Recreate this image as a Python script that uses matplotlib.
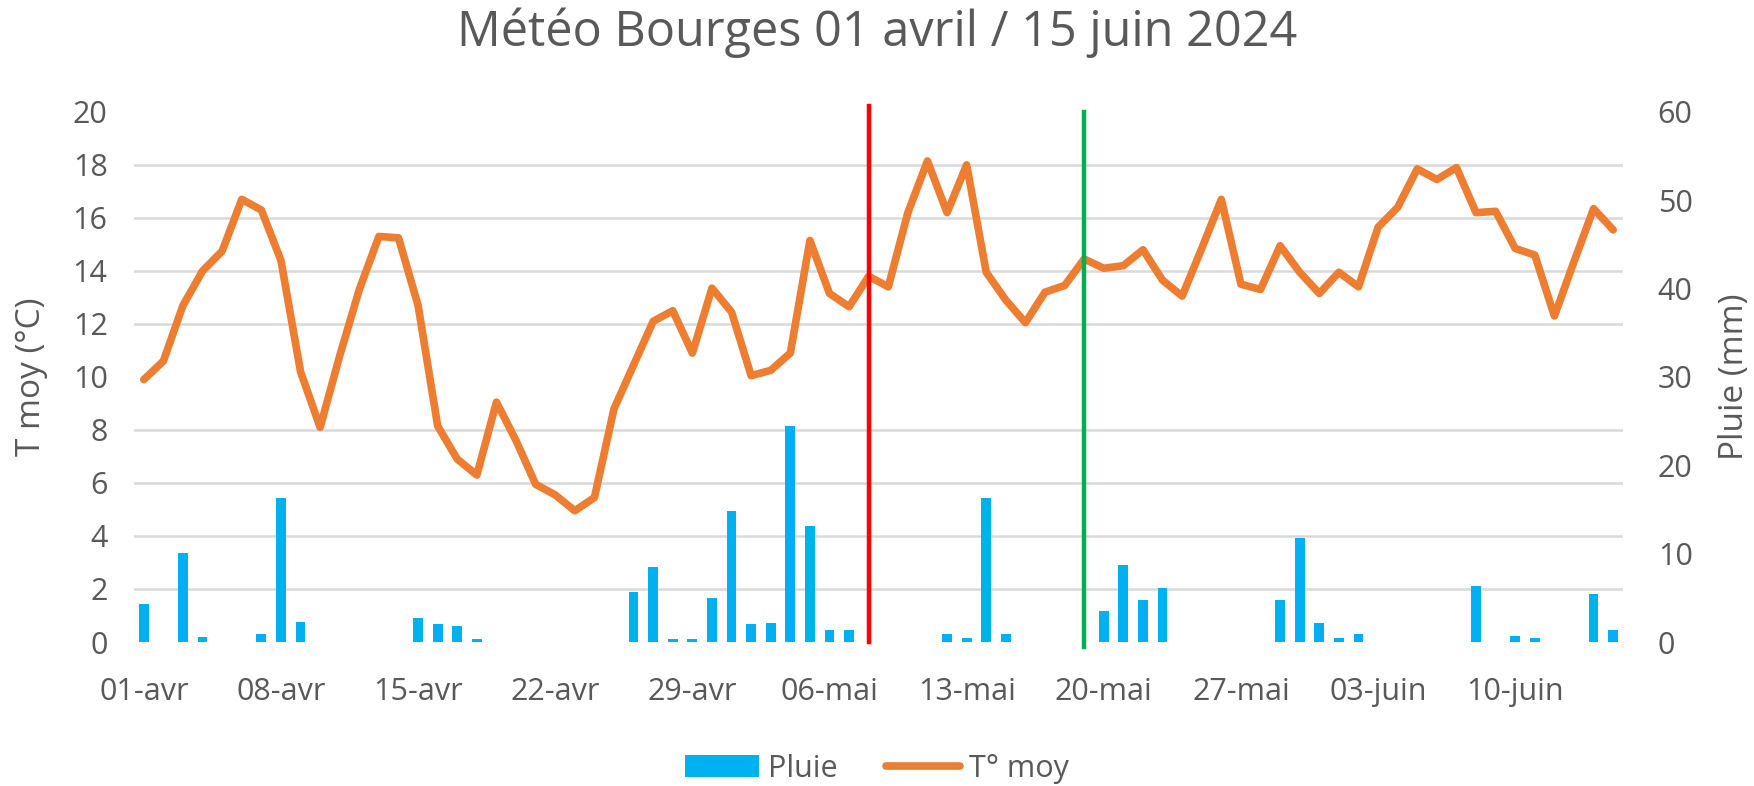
import matplotlib
matplotlib.use("Agg")
import matplotlib.pyplot as plt
import numpy as np
import pandas as pd

# ===== Données =====
dates = pd.date_range("2024-04-01", "2024-06-15", freq="D")

t_moy = [
    9.9, 10.6, 12.7, 14.0, 14.75, 16.7, 16.3, 14.4, 10.2, 8.1,
    10.8, 13.3, 15.3, 15.25, 12.7, 8.15, 6.9, 6.3, 9.05, 7.6,
    5.95, 5.55, 4.95, 5.45, 8.8, 10.45, 12.1, 12.5, 10.9, 13.35,
    12.45, 10.05, 10.25, 10.9, 15.15, 13.15, 12.65, 13.8, 13.4, 16.2,
    18.15, 16.2, 18.0, 13.95, 12.9, 12.05, 13.2, 13.45, 14.45, 14.1,
    14.2, 14.8, 13.65, 13.05, 14.85, 16.7, 13.5, 13.3, 14.95, 13.95,
    13.15, 13.95, 13.4, 15.65, 16.4, 17.85, 17.45, 17.9, 16.2, 16.25,
    14.85, 14.6, 12.3, 14.35, 16.35, 15.55,
]

pluie = [
    4.3, 0, 10.1, 0.55, 0, 0, 0.9, 16.3, 2.25, 0,
    0, 0, 0, 0, 2.7, 2.0, 1.8, 0.3, 0, 0,
    0, 0, 0, 0, 0, 5.7, 8.5, 0.3, 0.3, 5.0,
    14.8, 2.0, 2.2, 24.5, 13.1, 1.35, 1.35, 0, 0, 0,
    0, 0.9, 0.5, 16.3, 0.9, 0, 0, 0, 0, 3.55,
    8.7, 4.8, 6.1, 0, 0, 0, 0, 0, 4.8, 11.8,
    2.2, 0.45, 0.9, 0, 0, 0, 0, 0, 6.35, 0,
    0.65, 0.45, 0, 0, 5.45, 1.35,
]

mois_fr = {4: "avr", 5: "mai", 6: "juin"}
tick_pos = list(range(0, len(dates), 7))
tick_labels = [f"{dates[i].day:02d}-{mois_fr[dates[i].month]}" for i in tick_pos]

date_rouge = "2024-05-08"
date_verte = "2024-05-19"

# ===== Style =====
txt = "#595959"
grid_col = "#d9d9d9"
plt.rcParams["font.family"] = ["Open Sans", "DejaVu Sans"]
fs = 22

x = np.arange(len(dates))

fig = plt.figure(figsize=(17.54, 7.86), dpi=100)
ax = fig.add_axes([0.0764, 0.1832, 0.8489, 0.6744])
ax2 = ax.twinx()

# pluie (axe droit), derrière la courbe
ax2.bar(x, pluie, width=0.5, color="#00B0F0", label="Pluie", zorder=3)
ax2.set_ylim(0, 60)
ax2.set_yticks(range(0, 61, 10))
ax2.set_yticks(np.arange(0, 61, 6), minor=True)
ax2.grid(axis="y", which="minor", color=grid_col, linewidth=1.8, zorder=0)
ax2.tick_params(axis="y", which="both", length=0, colors=txt, labelsize=fs, pad=25)
ax2.set_ylabel("Pluie (mm)", color=txt, fontsize=24)
ax2.yaxis.set_label_coords(1.064, 0.50)

# température (axe gauche)
ax.set_zorder(ax2.get_zorder() + 1)
ax.patch.set_visible(False)
ax.plot(x, t_moy, color="#ED7D31", linewidth=5.5, solid_capstyle="round",
        solid_joinstyle="round", label="T° moy", zorder=4)
ax.set_ylim(0, 20)
ax.set_yticks(range(0, 21, 2))
ax.tick_params(axis="y", length=0, colors=txt, labelsize=fs, pad=19)
ax.set_ylabel("T moy (°C)", color=txt, fontsize=24)
ax.yaxis.set_label_coords(-0.058, 0.50)

ax.set_xlim(-0.5, len(dates) - 0.5)
ax.set_xticks(tick_pos)
ax.set_xticklabels(tick_labels)
ax.tick_params(axis="x", length=0, colors=txt, labelsize=fs, pad=25)

# repères verticaux
xr = list(dates).index(pd.Timestamp(date_rouge))
xv = list(dates).index(pd.Timestamp(date_verte))
ax.plot([xr, xr], [0, 20.21], color="#FF0000", linewidth=3.2, clip_on=False, zorder=5)
ax.plot([xv, xv], [-0.17, 20], color="#00B050", linewidth=3.2, clip_on=False, zorder=5)

for a in (ax, ax2):
    for s in a.spines.values():
        s.set_visible(False)

fig.suptitle("Météo Bourges 01 avril / 15 juin 2024", color=txt, fontsize=35, y=0.99)

h1, l1 = ax2.get_legend_handles_labels()
h2, l2 = ax.get_legend_handles_labels()
fig.legend(h1 + h2, l1 + l2, loc="center", bbox_to_anchor=(0.5, 0.022),
           ncol=2, frameon=False, fontsize=fs, labelcolor=txt,
           handlelength=2.4, handleheight=0.75, columnspacing=1.6, handletextpad=0.3)

fig.savefig("out.png", dpi=100)
